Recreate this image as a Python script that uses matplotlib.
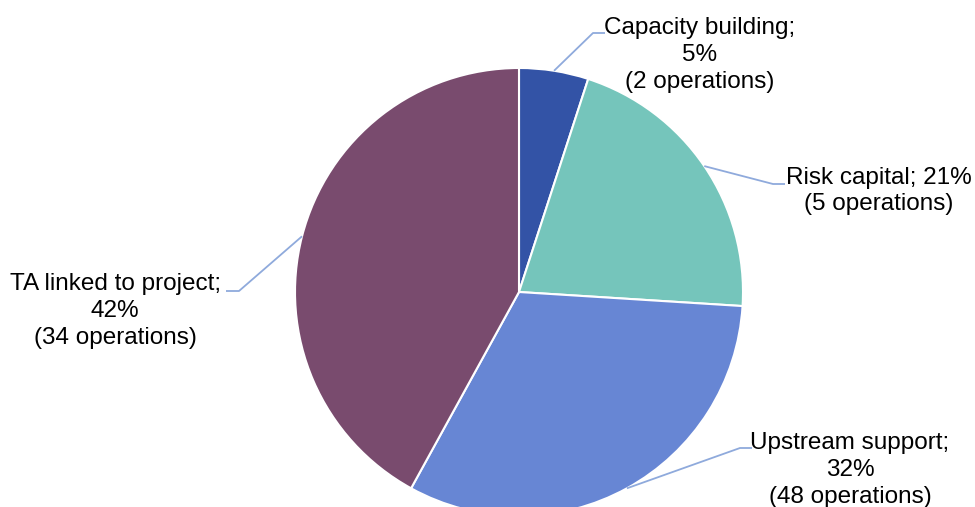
import numpy as np
import matplotlib
matplotlib.use("Agg")
import matplotlib.pyplot as plt

plt.rcParams['font.family'] = ['Liberation Sans', 'DejaVu Sans']

categories = ["Capacity building", "Risk capital", "Upstream support", "TA linked to project"]
shares = [5, 21, 32, 42]
operations = [2, 5, 48, 34]
colors = ["#3353A6", "#75C5BB", "#6786D4", "#794B6E"]

W, H = 975, 507
fig = plt.figure(figsize=(W / 100, H / 100), dpi=100)
ax = fig.add_axes([0, 0, 1, 1])

cx, cy, r = 519, 215, 224
wedges, _ = ax.pie(shares, colors=colors, startangle=90, counterclock=False,
                   center=(cx, cy), radius=r, frame=True,
                   wedgeprops=dict(edgecolor="white", linewidth=1.5))
ax.set_xlim(0, W)
ax.set_ylim(0, H)
ax.set_aspect("equal")
ax.axis("off")

# label texts (line breaks as laid out in the chart)
label_texts = [
    f"{categories[0]};\n{shares[0]}%\n({operations[0]} operations)",
    f"{categories[1]}; {shares[1]}%\n({operations[1]} operations)",
    f"{categories[2]};\n{shares[2]}%\n({operations[2]} operations)",
    f"{categories[3]};\n{shares[3]}%\n({operations[3]} operations)",
]
# elbow point, end of horizontal segment, text centre
layout = [
    ((593, 474), (605, 474), (700, 452)),
    ((773, 323), (785, 323), (879, 316)),
    ((740, 59), (752, 59), (850, 37)),
    ((239, 216), (226, 216), (115, 196)),
]
line_color = "#8FAADC"
for w, txt, (elbow, end, tc) in zip(wedges, label_texts, layout):
    mid = np.deg2rad((w.theta1 + w.theta2) / 2)
    sx, sy = cx + r * np.cos(mid), cy + r * np.sin(mid)
    ax.plot([sx, elbow[0], end[0]], [sy, elbow[1], end[1]], color=line_color,
            lw=1.3, solid_capstyle="butt", zorder=3)
    ax.text(tc[0], tc[1], txt, ha="center", va="center", fontsize=17.5,
            color="black", linespacing=1.28)

fig.savefig("out.png", dpi=100)
